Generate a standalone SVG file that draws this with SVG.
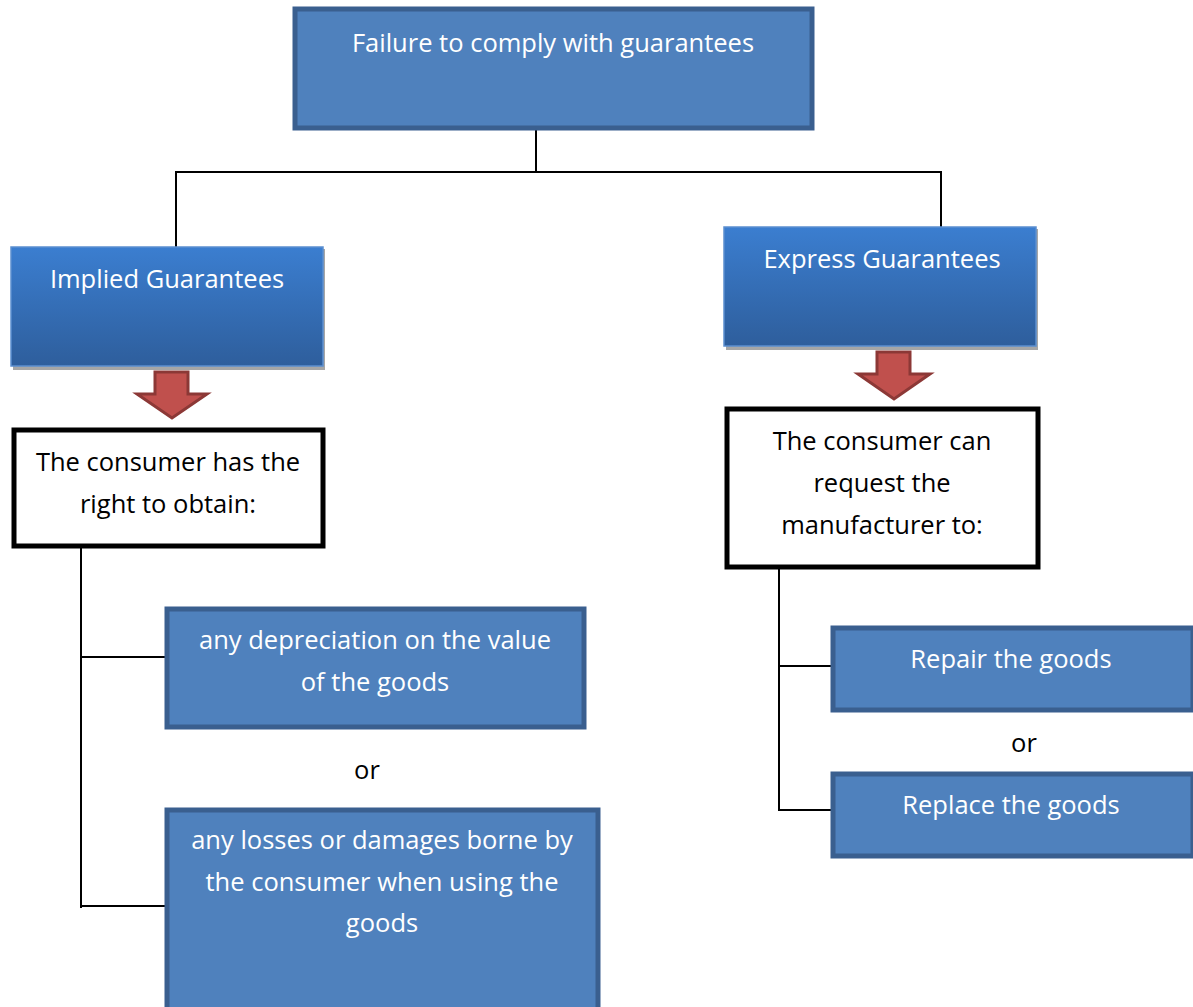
<svg xmlns="http://www.w3.org/2000/svg" width="1193" height="1007" viewBox="0 0 1193 1007">
<defs>
<linearGradient id="g" x1="0" y1="0" x2="0" y2="1">
<stop offset="0" stop-color="#3B7ED0"/>
<stop offset="1" stop-color="#2E5E9C"/>
</linearGradient>
</defs>
<style>
.blue{fill:#4F81BD;stroke:#3A5F8F;stroke-width:5}
.grad{fill:url(#g);stroke:#5B8FD0;stroke-width:1.5}
.shadow{fill:#A6A6A6}
.white{fill:#FFFFFF;stroke:#000000;stroke-width:5}
.arrow{fill:#C0504D;stroke:#8C3836;stroke-width:3;stroke-linejoin:miter}
.line{fill:none;stroke:#000000;stroke-width:2}
.wt{font-family:"Open Sans","Liberation Sans",sans-serif;font-size:25.5px;fill:#FFFFFF;text-anchor:middle}
.bt{font-family:"Open Sans","Liberation Sans",sans-serif;font-size:25.5px;fill:#000000;text-anchor:middle}
</style>
<rect width="1193" height="1007" fill="#FFFFFF"/>
<g id="connectors">
<polyline class="line" points="536,130 536,172 176,172 176,248"/>
<polyline class="line" points="536,172 941,172 941,228"/>
<polyline class="line" points="81,547 81,908"/>
<polyline class="line" points="81,657 166,657"/>
<polyline class="line" points="81,906 166,906"/>
<polyline class="line" points="779,568 779,810 832,810"/>
<polyline class="line" points="779,666 832,666"/>
</g>
<g id="top">
<rect class="blue" x="295" y="9" width="517" height="119"/>
<text class="wt" x="553" y="52">Failure to comply with guarantees</text>
</g>
<g id="implied">
<rect class="shadow" x="13" y="249" width="312" height="121"/>
<rect class="grad" x="11" y="247" width="312" height="119"/>
<text class="wt" x="167" y="288">Implied Guarantees</text>
</g>
<g id="express">
<rect class="shadow" x="726" y="229" width="312" height="121"/>
<rect class="grad" x="724" y="227" width="312" height="119"/>
<text class="wt" x="882" y="268">Express Guarantees</text>
</g>
<g id="arrow-left">
<polygon class="arrow" points="155,372 188,372 188,394 207,394 172,418 137,394 155,394"/>
</g>
<g id="arrow-right">
<polygon class="arrow" points="877,352 910,352 910,374 930,374 894,399 858,374 877,374"/>
</g>
<g id="right-obtain">
<rect class="white" x="14" y="430" width="309" height="116"/>
<text class="bt" x="168" y="471">The consumer has the</text>
<text class="bt" x="168" y="513">right to obtain:</text>
</g>
<g id="request">
<rect class="white" x="727" y="409" width="311" height="158"/>
<text class="bt" x="882" y="450">The consumer can</text>
<text class="bt" x="882" y="492">request the</text>
<text class="bt" x="882" y="534">manufacturer to:</text>
</g>
<g id="depreciation">
<rect class="blue" x="167" y="609" width="417" height="118"/>
<text class="wt" x="375" y="649">any depreciation on the value</text>
<text class="wt" x="375" y="691">of the goods</text>
</g>
<text class="bt" x="367" y="779">or</text>
<g id="losses">
<rect class="blue" x="167" y="810" width="431" height="200"/>
<text class="wt" x="382" y="849">any losses or damages borne by</text>
<text class="wt" x="382" y="891">the consumer when using the</text>
<text class="wt" x="382" y="932">goods</text>
</g>
<g id="repair">
<rect class="blue" x="833" y="628" width="360" height="82"/>
<text class="wt" x="1011" y="668">Repair the goods</text>
</g>
<text class="bt" x="1024" y="752">or</text>
<g id="replace">
<rect class="blue" x="833" y="774" width="360" height="82"/>
<text class="wt" x="1011" y="814">Replace the goods</text>
</g>
</svg>
